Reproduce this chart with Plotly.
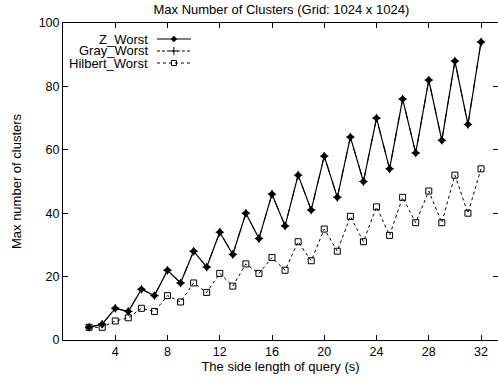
import plotly.graph_objects as go

side = list(range(2, 33))
z_worst = [4, 5, 10, 9, 16, 14, 22, 18, 28, 23, 34, 27, 40, 32, 46, 36, 52, 41,
           58, 45, 64, 50, 70, 54, 76, 59, 82, 63, 88, 68, 94]
gray_worst = list(z_worst)
hilbert_worst = [4, 4, 6, 7, 10, 9, 14, 12, 18, 15, 21, 17, 24, 21, 26, 22, 31, 25,
                 35, 28, 39, 31, 42, 33, 45, 37, 47, 37, 52, 40, 54]
x_ticks = [4, 8, 12, 16, 20, 24, 28, 32]
y_ticks = [0, 20, 40, 60, 80, 100]
names = ["Z_Worst", "Gray_Worst", "Hilbert_Worst"]

FONT = "Liberation Sans, Arial, sans-serif"
fig = go.Figure()

fig.add_trace(go.Scatter(x=side, y=gray_worst, mode="lines+markers", name=names[1],
                         line=dict(color="black", width=1, dash="dash"),
                         marker=dict(symbol="cross-thin", size=6, line=dict(color="black", width=1)),
                         showlegend=False))
fig.add_trace(go.Scatter(x=side, y=hilbert_worst, mode="lines+markers", name=names[2],
                         line=dict(color="black", width=1, dash="dot"),
                         marker=dict(symbol="square-open", size=6, color="black", line=dict(width=1)),
                         showlegend=False))
fig.add_trace(go.Scatter(x=side, y=z_worst, mode="lines+markers", name=names[0],
                         line=dict(color="black", width=1.2),
                         marker=dict(symbol="diamond", size=6, color="black"),
                         showlegend=False))

# custom legend (text left of sample, like gnuplot)
leg_y = [0.9495, 0.9117, 0.8738]
styles = [
    (dict(color="black", width=1.2), dict(symbol="diamond", size=5, color="black")),
    (dict(color="black", width=1, dash="3px,2px"), dict(symbol="cross-thin", size=6, line=dict(color="black", width=1))),
    (dict(color="black", width=1, dash="dot"), dict(symbol="square-open", size=5, color="black", line=dict(width=1))),
]
for nm, yy, (ln, mk) in zip(names, leg_y, styles):
    fig.add_trace(go.Scatter(x=[0.216, 0.294], y=[yy, yy], mode="lines", line=ln,
                             xaxis="x2", yaxis="y2", showlegend=False, hoverinfo="skip"))
    fig.add_trace(go.Scatter(x=[0.255], y=[yy], mode="markers", marker=mk,
                             xaxis="x2", yaxis="y2", showlegend=False, hoverinfo="skip"))
    fig.add_annotation(x=0.197, y=yy, xref="x2", yref="y2", text=nm, showarrow=False,
                       xanchor="right", yanchor="middle", borderpad=0,
                       font=dict(family=FONT, size=13, color="black"))

fig.update_layout(
    width=498, height=381,
    margin=dict(l=63, r=0, t=23, b=41),
    paper_bgcolor="white", plot_bgcolor="white",
    font=dict(family=FONT, size=13, color="black"),
    title=dict(text="Max Number of Clusters (Grid: 1024 x 1024)", x=0.565, xanchor="center",
               y=0.974, yanchor="middle", font=dict(family=FONT, size=13, color="black")),
    xaxis=dict(range=[0, 33.3], tickvals=x_ticks, ticks="inside", ticklen=5, tickcolor="black",
               showline=True, linecolor="black", linewidth=1, mirror="ticks", showgrid=False,
               zeroline=False, tickfont=dict(family=FONT, size=12.5),
               title=dict(text="The side length of query (s)", standoff=0,
                          font=dict(family=FONT, size=13))),
    yaxis=dict(range=[0, 100], tickvals=y_ticks, ticks="inside", ticklen=5, tickcolor="black",
               showline=True, linecolor="black", linewidth=1, mirror="ticks", showgrid=False,
               zeroline=False, tickfont=dict(family=FONT, size=12.5),
               title=dict(text="Max number of clusters", standoff=14,
                          font=dict(family=FONT, size=13))),
    xaxis2=dict(range=[0, 1], overlaying="x", visible=False, domain=[0, 1]),
    yaxis2=dict(range=[0, 1], overlaying="y", visible=False),
)

fig.write_html("out.html")
